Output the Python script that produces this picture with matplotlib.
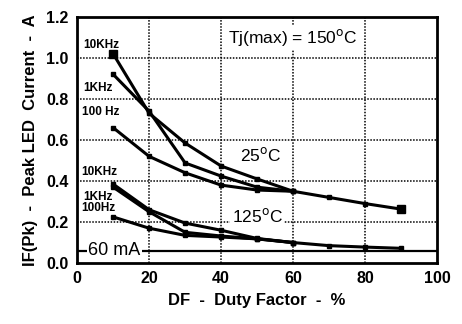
import matplotlib
matplotlib.use('Agg')
import matplotlib.pyplot as plt
import numpy as np

plt.rcParams['font.family'] = ['Liberation Sans', 'DejaVu Sans']

# duty factor, %
df = [10, 20, 30, 40, 50, 60, 70, 80, 90]

# 25 C curves (A)
t25_10k = [1.02, 0.73, 0.585, 0.473, 0.41, 0.35, 0.32, 0.29, 0.263]
t25_1k = [0.92, 0.74, 0.488, 0.424, 0.37, 0.35]
t25_100 = [0.66, 0.52, 0.44, 0.38, 0.356, 0.35]

# 125 C curves (A)
t125_10k = [0.385, 0.26, 0.195, 0.16, 0.12, 0.10, 0.085, 0.078, 0.072]
t125_1k = [0.37, 0.25, 0.15, 0.132, 0.118, 0.10]
t125_100 = [0.225, 0.17, 0.135, 0.127, 0.118, 0.10]

limit_a = 0.06

xticks = [0, 20, 40, 60, 80, 100]
yticks = [0.0, 0.2, 0.4, 0.6, 0.8, 1.0, 1.2]

fig = plt.figure(figsize=(4.62, 3.24), dpi=100)
ax = fig.add_axes([0.167, 0.188, 0.779, 0.760])

for x in [20, 40, 60, 80]:
    ax.axvline(x, color='black', lw=1.1, ls=(0, (1, 1)), zorder=1)
for y in [0.2, 0.4, 0.6, 0.8, 1.0]:
    ax.axhline(y, color='black', lw=1.1, ls=(0, (1, 1)), zorder=1)

ax.axhline(limit_a, color='black', lw=1.6, zorder=2)

for ys in [t25_10k, t25_1k, t25_100, t125_10k, t125_1k, t125_100]:
    ax.plot(df[:len(ys)], ys, color='black', lw=2.2, marker='s', ms=3.5,
            solid_capstyle='round', zorder=3)
ax.plot([df[0], df[-1]], [t25_10k[0], t25_10k[-1]], ls='none', marker='s',
        ms=5.5, color='black', zorder=4)

lab = dict(fontsize=8.5, fontweight='bold', ha='left', va='center', zorder=5)
ax.text(1.6, 1.063, '10KHz', **lab)
ax.text(1.8, 0.853, '1KHz', **lab)
ax.text(1.4, 0.737, '100 Hz', **lab)
ax.text(1.2, 0.444, '10KHz', **lab)
ax.text(1.6, 0.322, '1KHz', **lab)
ax.text(1.2, 0.268, '100Hz', **lab)

ax.text(51, 0.525, '25$^{\\rm o}$C', fontsize=12.5, ha='center', va='center', zorder=5)
ax.text(50, 0.23, '125$^{\\rm o}$C', fontsize=12.5, ha='center', va='center',
        zorder=5, bbox=dict(fc='white', ec='none', pad=1))
ax.text(60, 1.1, 'Tj(max) = 150$^{\\rm o}$C', fontsize=12.5, ha='center', va='center',
        zorder=5, bbox=dict(fc='white', ec='none', pad=1.5))
ax.text(3.0, limit_a, '60 mA', fontsize=13, ha='left', va='center', zorder=5,
        bbox=dict(fc='white', ec='none', pad=1))

ax.set_xlim(0, 100)
ax.set_ylim(0, 1.2)
ax.set_xticks(xticks)
ax.set_yticks(yticks)
ax.set_yticklabels(['%.1f' % v for v in yticks])
ax.tick_params(axis='both', length=0, labelsize=11.5, pad=6)
for t in ax.get_xticklabels() + ax.get_yticklabels():
    t.set_fontweight('bold')
for s in ax.spines.values():
    s.set_linewidth(2)

ax.set_xlabel('DF  -  Duty Factor  -  %', fontsize=12, fontweight='bold', labelpad=5)
ax.set_ylabel('IF(Pk)  -  Peak LED  Current  -  A', fontsize=12, fontweight='bold',
              labelpad=6)

fig.savefig('out.png', dpi=100)
